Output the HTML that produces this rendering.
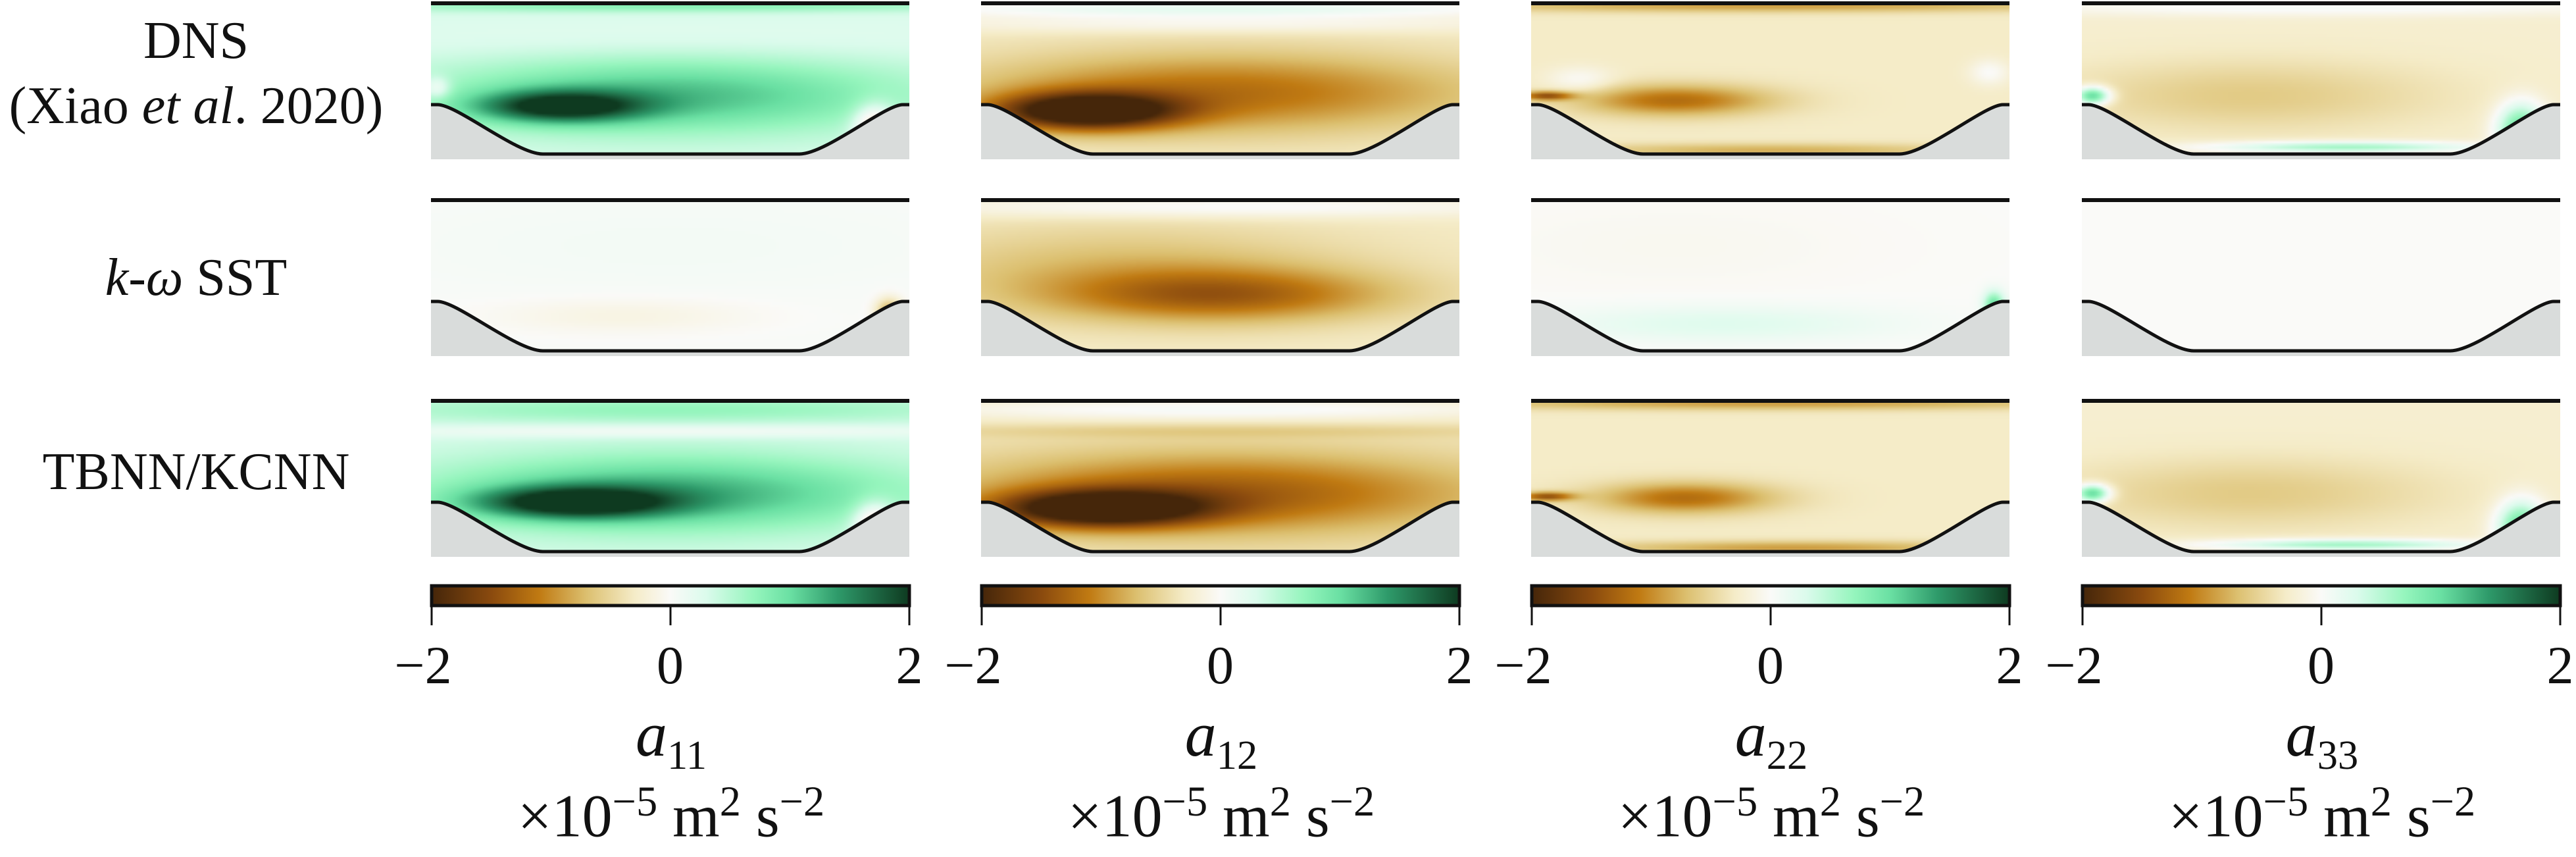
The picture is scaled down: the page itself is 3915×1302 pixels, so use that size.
<!DOCTYPE html>
<html><head><meta charset="utf-8">
<style>
body{margin:0;background:#fff;width:3915px;height:1302px;position:relative;overflow:hidden;font-family:"Liberation Serif",serif;color:#111}
.panel{position:absolute;width:727px;height:240px}
.panel canvas{position:absolute;left:0;top:0;width:727px;height:240px}
.panel svg{position:absolute;left:0;top:0}
.rl{position:absolute;font-size:80px;text-align:center;width:620px;left:-12px;line-height:1}
.cb{position:absolute;top:888px;width:730px;height:32px}
.tick{position:absolute;font-size:82px;line-height:1;top:970px;transform:translateX(-50%)}
.lab{position:absolute;line-height:1;text-align:center;width:730px}
sub{font-size:65%}
sup{font-size:70%}
</style></head><body>
<div class="rl" style="top:22px">DNS</div>
<div class="rl" style="top:121px">(Xiao <i>et al</i>. 2020)</div>
<div class="rl" style="top:382px"><i>k</i>-<i>ω</i> SST</div>
<div class="rl" style="top:677px">TBNN/KCNN</div>
<div id="root"></div>
<script>
const colX=[655,1491,2327,3164];
const rowY=[2,301,606];
const comps=["11","12","22","33"];
const cmapVals=[-2,-1.5,-1.1,-0.7,-0.3,0,0.3,0.7,1.0,1.4,2];
const cmapCols=["#45260a","#8a4a0e","#c07a12","#dcc070","#f5ecc8","#fafaf8","#dbfbec","#95f5bd","#6ae0a3","#2e9a6a","#0e3a20"];
// field definitions: base value and blobs [u,v,su,sv,value]
const base=[[0.3,-0.3,-0.3,-0.25],[0.02,-0.3,0.0,0.0],[0.3,-0.35,-0.3,-0.25]];
const blobs=[
 [[[0.27,0.67,0.12,0.07,1.5],[0.5,0.6,0.35,0.17,0.9],[0.5,0.02,0.5,0.03,0.5],[0.93,0.8,0.03,0.1,-0.9],[0.01,0.55,0.02,0.05,-0.5],[0.5,0.25,0.5,0.1,-0.1]],
  [[0.22,0.7,0.13,0.08,-2.0],[0.5,0.58,0.38,0.18,-0.9],[0.5,0.04,0.5,0.04,0.5],[0.5,0.14,0.5,0.04,0.25]],
  [[0.3,0.63,0.14,0.07,-0.9],[0.03,0.6,0.04,0.02,-1.1],[0.5,0.02,0.5,0.03,-0.6],[0.1,0.5,0.05,0.06,0.3],[0.96,0.45,0.03,0.06,0.3],[0.5,0.95,0.3,0.03,-0.5]],
  [[0.35,0.6,0.28,0.16,-0.35],[0.02,0.6,0.025,0.04,1.4],[0.92,0.82,0.035,0.12,1.3],[0.55,0.93,0.2,0.025,0.9],[0.5,0.03,0.5,0.04,0.3]]],
 [[[0.96,0.72,0.02,0.06,-0.8],[0.4,0.75,0.2,0.08,-0.15],[0.5,0.3,0.4,0.2,0.05]],
  [[0.5,0.62,0.25,0.12,-0.9],[0.3,0.45,0.35,0.2,-0.4],[0.5,0.05,0.5,0.05,0.35]],
  [[0.97,0.68,0.015,0.06,1.0],[0.4,0.8,0.25,0.08,0.25],[0.3,0.3,0.3,0.2,-0.05]],
  []],
 [[[0.3,0.66,0.14,0.07,1.6],[0.5,0.6,0.35,0.17,1.0],[0.5,0.06,0.5,0.06,0.4],[0.93,0.8,0.03,0.1,-0.9],[0.5,0.2,0.5,0.03,-0.3]],
  [[0.25,0.7,0.15,0.08,-1.9],[0.5,0.6,0.38,0.18,-1.0],[0.5,0.06,0.5,0.05,0.4],[0.5,0.2,0.5,0.03,-0.2]],
  [[0.32,0.63,0.13,0.07,-0.9],[0.03,0.62,0.04,0.02,-1.1],[0.5,0.02,0.5,0.03,-0.6],[0.55,0.95,0.3,0.03,-0.6]],
  [[0.35,0.6,0.28,0.16,-0.35],[0.02,0.6,0.025,0.04,1.4],[0.92,0.82,0.035,0.12,1.3],[0.55,0.93,0.2,0.025,0.9]]]
];
function hex(h){return [parseInt(h.substr(1,2),16),parseInt(h.substr(3,2),16),parseInt(h.substr(5,2),16)];}
const cmapRGB=cmapCols.map(hex);
function cmap(v){
  v=Math.max(-2,Math.min(2,v));
  for(let i=0;i<cmapVals.length-1;i++){
    if(v<=cmapVals[i+1]){const t=(v-cmapVals[i])/(cmapVals[i+1]-cmapVals[i]);const a=cmapRGB[i],b=cmapRGB[i+1];return [a[0]+(b[0]-a[0])*t,a[1]+(b[1]-a[1])*t,a[2]+(b[2]-a[2])*t];}
  }
  return cmapRGB[cmapRGB.length-1];
}
const root=document.getElementById('root');
const hill="M0,157 L10,157 C40,157 130,232 170,232 L560,232 C600,232 690,157 717,157 L727,157 L727,240 L0,240 Z";
const hillLine="M0,157 L10,157 C40,157 130,232 170,232 L560,232 C600,232 690,157 717,157 L727,157";
for(let r=0;r<3;r++)for(let c=0;c<4;c++){
  const p=document.createElement('div');p.className='panel';
  
  
  p.style.left=colX[c]+'px';p.style.top=rowY[r]+'px';
  const cv=document.createElement('canvas');const W=182,H=60;cv.width=W;cv.height=H;
  const ctx=cv.getContext('2d');const img=ctx.createImageData(W,H);
  for(let j=0;j<H;j++)for(let i=0;i<W;i++){
    const u=i/(W-1),v=j/(H-1);let val=base[r][c];
    for(const b of blobs[r][c]){const dx=(u-b[0])/b[2],dy=(v-b[1])/b[3];val+=b[4]*Math.exp(-0.5*(dx*dx+dy*dy));}
    const col=cmap(val);const k=(j*W+i)*4;img.data[k]=col[0];img.data[k+1]=col[1];img.data[k+2]=col[2];img.data[k+3]=255;
  }
  ctx.putImageData(img,0,0);p.appendChild(cv);
  p.insertAdjacentHTML('beforeend',`<svg width="727" height="240"><path d="${hill}" fill="#d9dcdb"/><path d="${hillLine}" fill="none" stroke="#111" stroke-width="5"/><line x1="0" y1="3" x2="727" y2="3" stroke="#111" stroke-width="6"/></svg>`);
  root.appendChild(p);
}
const tickVals=[-2,0,2];
const tickText=["\u22122","0","2"];
for(let c=0;c<4;c++){
  const cb=document.createElement('div');cb.className='cb';
  
  
  cb.style.left=(colX[c]-1)+'px';
  cb.innerHTML=`<svg width="734" height="65" style="position:absolute;left:-2px;top:-2px"><defs><linearGradient id="g${c}">${cmapVals.map((v,i)=>`<stop offset="${(v+2)/4}" stop-color="${cmapCols[i]}"/>`).join('')}</linearGradient></defs><rect x="4" y="4" width="726" height="30" fill="url(#g${c})" stroke="#111" stroke-width="5"/>${tickVals.map(v=>`<line x1="${4+(v+2)/4*726}" y1="34" x2="${4+(v+2)/4*726}" y2="64" stroke="#111" stroke-width="3"/>`).join('')}</svg>`;
  root.appendChild(cb);
  tickVals.forEach((v,i)=>{
    const t=document.createElement('div');t.className='tick';
    
    
    t.style.left=(colX[c]+(v+2)/4*727-(i==0?12:0))+'px';t.textContent=tickText[i];root.appendChild(t);
  });
  const l=document.createElement('div');l.className='lab';
  
  
  l.style.left=colX[c]+'px';l.style.top='1068px';l.style.fontSize='96px';
  l.innerHTML=`<i>a</i><sub>${comps[c]}</sub>`;root.appendChild(l);
  const u=document.createElement('div');u.className='lab';
  
  
  u.style.left=colX[c]+'px';u.style.top='1186px';u.style.fontSize='92px';
  u.innerHTML='×10<sup>−5</sup> m<sup>2</sup> s<sup>−2</sup>';root.appendChild(u);
}
</script>
</body></html>
